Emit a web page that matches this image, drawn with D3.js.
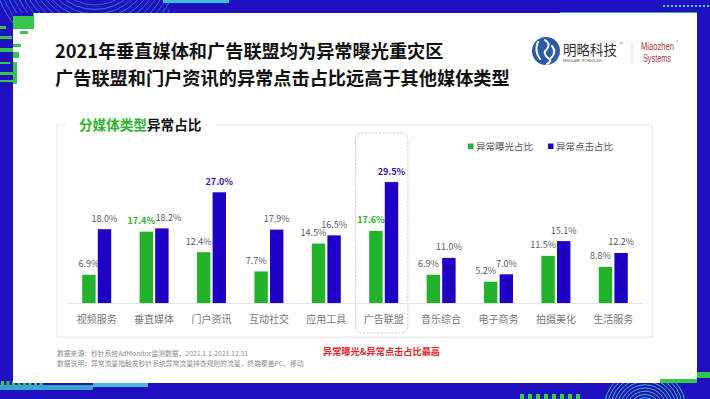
<!DOCTYPE html>
<html><head><meta charset="utf-8">
<script src="https://cdn.jsdelivr.net/npm/d3@7"></script>
<style>
html,body{margin:0;padding:0;background:#2011c0;}
svg{display:block;font-family:"Noto Sans CJK SC","Noto Sans",sans-serif;}
</style></head>
<body>
<script>
// ---- data ----
const categories = ["视频服务","垂直媒体","门户资讯","互动社交","应用工具","广告联盟","音乐综合","电子商务","拍摄美化","生活服务"];
const seriesNames = ["异常曝光占比","异常点击占比"];
const exposure = [6.9,17.4,12.4,7.7,14.5,17.6,6.9,5.2,11.5,8.8];
const clicks   = [18.0,18.2,27.0,17.9,16.5,29.5,11.0,7.0,15.1,12.2];
const boldExposure = ["垂直媒体","广告联盟"];
const boldClicks = ["门户资讯","广告联盟"];
const highlightCategory = "广告联盟";
const titleLines = ["2021年垂直媒体和广告联盟均为异常曝光重灾区","广告联盟和门户资讯的异常点击占比远高于其他媒体类型"];
const footnotes = ["数据来源：秒针系统AdMonitor监测数据，2021.1.1-2021.12.31","数据说明：异常流量指触发秒针系统异常流量排查规则的流量，终端覆盖PC、移动"];
const noteText = "异常曝光&异常点击占比最高";

const W=710,H=399;
const GREEN="#22b22c", BLUE="#1d02c6", FRAME="#2011c0";
const svg=d3.select("body").append("svg").attr("width",W).attr("height",H);

// ---- frame decorations ----
svg.append("rect").attr("width",W).attr("height",H).attr("fill",FRAME);
const deco=svg.append("g");
const arcG=deco.append("g");
arcG.append("clipPath").attr("id","clipTL").append("rect").attr("x",0).attr("y",0).attr("width",170).attr("height",100);
const swTL=arcG.append("g").attr("clip-path","url(#clipTL)");
d3.range(14).forEach(i=>swTL.append("circle").attr("cx",95).attr("cy",-40).attr("r",45+i*4.5)
  .attr("fill","none").attr("stroke",i%2?"#3fb6d8":"#2aa0d0").attr("stroke-width",0.8).attr("opacity",0.8));
arcG.append("clipPath").attr("id","clipBR").append("rect").attr("x",600).attr("y",380).attr("width",110).attr("height",19);
const swBR=arcG.append("g").attr("clip-path","url(#clipBR)");
d3.range(12).forEach(i=>swBR.append("circle").attr("cx",645).attr("cy",410).attr("r",6+i*3.2)
  .attr("fill","none").attr("stroke",i%2?"#39d06a":"#3fb6d8").attr("stroke-width",1));
deco.append("rect").attr("x",163).attr("y",0).attr("width",66).attr("height",3).attr("fill","#3cc0d6");
deco.append("rect").attr("x",560).attr("y",12).attr("width",137).attr("height",3).attr("fill","#2aa79a");
d3.range(12).forEach(i=>deco.append("rect").attr("x",663+i*4).attr("y",5).attr("width",2).attr("height",2).attr("fill","#4fd0e0"));
deco.append("rect").attr("x",0).attr("y",385).attr("width",93).attr("height",5).attr("fill","#3aa6d0");
deco.append("rect").attr("x",93).attr("y",383).attr("width",55).attr("height",4).attr("fill","#4bb8d4");
d3.range(8).forEach(i=>deco.append("rect").attr("x",1+i*5.5).attr("y",381).attr("width",3).attr("height",4).attr("fill","#35d04a"));
d3.range(8).forEach(i=>deco.append("rect").attr("x",520+i*8).attr("y",394).attr("width",4).attr("height",5).attr("fill","#35d04a"));

svg.append("rect").attr("x",13).attr("y",13).attr("width",684).attr("height",370).attr("fill","#fff");
const gb=[[13,13,21,16],[0,26,6,3],[20,31,8,3],[0,36,12,3],[13,44,8,3],[0,48,13,4],[13,52,6,6],[0,62,10,2],[0,72,13,3],[0,80,13,2],[13,62,4,22]];
gb.forEach(b=>svg.append("rect").attr("x",b[0]).attr("y",b[1]).attr("width",b[2]).attr("height",b[3]).attr("fill","#35c84a"));
svg.append("rect").attr("x",13).attr("y",13).attr("width",20).attr("height",3).attr("fill",FRAME);
svg.append("rect").attr("x",660).attr("y",379).attr("width",37).attr("height",4).attr("fill","#35c84a");
svg.append("rect").attr("x",697).attr("y",372).attr("width",13).attr("height",6).attr("fill","#35c84a");
svg.append("rect").attr("x",697).attr("y",378).attr("width",13).attr("height",21).attr("fill",FRAME);

// ---- title ----
titleLines.forEach((t,i)=>svg.append("text").attr("x",55).attr("y",58+i*27)
  .attr("font-size",18.2).attr("font-weight",700).attr("fill","#111").text(t));

// ---- logo ----
const lg=svg.append("g");
lg.append("circle").attr("cx",546).attr("cy",51).attr("r",14).attr("fill","#2c5aa6");
lg.append("path").attr("d","M538,42 q-4,9 2,17 M545,40 q6,4 2,9 q-5,4 1,9 q5,3 -1,6 M552,46 q5,6 -1,12")
  .attr("fill","none").attr("stroke","#fff").attr("stroke-width",2).attr("stroke-linecap","round");
lg.append("text").attr("x",563).attr("y",55).attr("font-size",13.5).attr("fill","#333").text("明略科技");
lg.append("text").attr("x",620).attr("y",46).attr("font-size",5).attr("fill","#666").text("®");
lg.append("text").attr("x",563).attr("y",61.5).attr("font-size",3.2).attr("fill","#555").attr("font-family","Noto Sans").text("MINGLAMP TECHNOLOGY");
lg.append("line").attr("x1",632).attr("x2",632).attr("y1",42).attr("y2",63).attr("stroke","#ddd");
const mz=lg.append("text").attr("font-size",10.5).attr("fill","#b5333f").attr("font-family","Liberation Sans");
mz.append("tspan").attr("x",641).attr("y",49.5).attr("textLength",33).attr("lengthAdjust","spacingAndGlyphs").text("Miaozhen");
mz.append("tspan").attr("x",643).attr("y",61.5).attr("textLength",28).attr("lengthAdjust","spacingAndGlyphs").text("Systems");
lg.append("text").attr("x",676.5).attr("y",42.5).attr("font-size",3).attr("fill","#b5333f").text("®");

// ---- card ----
svg.append("rect").attr("x",58).attr("y",126).attr("width",595).attr("height",212).attr("fill","#f0f0f0");
svg.append("rect").attr("x",57).attr("y",125).attr("width",595).attr("height",212).attr("fill","#fff").attr("stroke","#e6e8ec");
svg.append("rect").attr("x",66).attr("y",118).attr("width",150).attr("height",14).attr("fill","#fff");
const sub=svg.append("text").attr("x",79).attr("y",130).attr("font-size",13.6).attr("font-weight",700);
sub.append("tspan").attr("fill","#2db52d").text("分媒体类型");
sub.append("tspan").attr("fill","#111").text("异常占比");

// ---- scales ----
const x0=d3.scaleBand().domain(categories).range([68,642]);
const groupW=29;
const x1=d3.scaleBand().domain(seriesNames).range([0,groupW]).paddingInner(0.14);
const y=d3.scaleLinear().domain([0,30]).range([303,180]);
const gx=c=>x0(c)+(x0.bandwidth()-groupW)/2;

svg.append("rect").attr("x",x0(highlightCategory)+0.5).attr("y",133).attr("width",x0.bandwidth()-5).attr("height",200)
  .attr("rx",6).attr("fill","none").attr("stroke","#eaa3ad").attr("stroke-width",0.8).attr("stroke-dasharray","2,1.5");

const axis=svg.append("g").attr("transform","translate(0,303)").call(d3.axisBottom(x0).tickSize(0).tickPadding(13));
axis.select(".domain").attr("stroke","#e2e2e2");
axis.selectAll("text").attr("font-size",10).attr("fill","#777").attr("font-family","Noto Sans CJK SC");

// label offsets: green labels nudge left; blue nudges right when two labels sit at nearly the same height
const close=(i)=>Math.abs(y(exposure[i])-y(clicks[i]))<6;
const sets=[{name:seriesNames[0],vals:exposure,color:GREEN,bold:boldExposure,dx:i=>(i===0?0:-5)},
            {name:seriesNames[1],vals:clicks,color:BLUE,bold:boldClicks,dx:i=>(close(i)?6.5:0)}];
sets.forEach(s=>{
  const g=svg.append("g");
  g.selectAll("rect").data(categories).join("rect")
    .attr("x",c=>gx(c)+x1(s.name)).attr("width",x1.bandwidth())
    .attr("y",(c,i)=>y(s.vals[i])).attr("height",(c,i)=>y(0)-y(s.vals[i])).attr("fill",s.color);
  g.selectAll("text").data(categories).join("text")
    .attr("x",(c,i)=>gx(c)+x1(s.name)+x1.bandwidth()/2+s.dx(i)).attr("y",(c,i)=>y(s.vals[i])-7.5)
    .attr("text-anchor","middle").attr("font-family","Noto Sans CJK SC")
    .attr("font-size",9)
    .attr("font-weight",c=>s.bold.includes(c)?700:400)
    .attr("fill",c=>s.bold.includes(c)?(s.name===seriesNames[0]?"#2db52d":"#2a1aa8"):"#5a5a5a")
    .text((c,i)=>s.vals[i].toFixed(1)+"%");
});

const legX=[468,548];
sets.forEach((s,i)=>{
  svg.append("rect").attr("x",legX[i]).attr("y",143.5).attr("width",5.5).attr("height",5.5).attr("fill",s.color);
  svg.append("text").attr("x",legX[i]+8).attr("y",149.8).attr("font-size",9.5).attr("fill","#555").text(s.name);
});

footnotes.forEach((t,i)=>svg.append("text").attr("x",57).attr("y",355.5+i*10).attr("font-size",6.8).attr("fill","#8c8c8c").text(t));
svg.append("text").attr("x",323).attr("y",354.5).attr("font-size",9.2).attr("font-weight",700).attr("fill","#e0262a").text(noteText);
</script>
</body></html>
